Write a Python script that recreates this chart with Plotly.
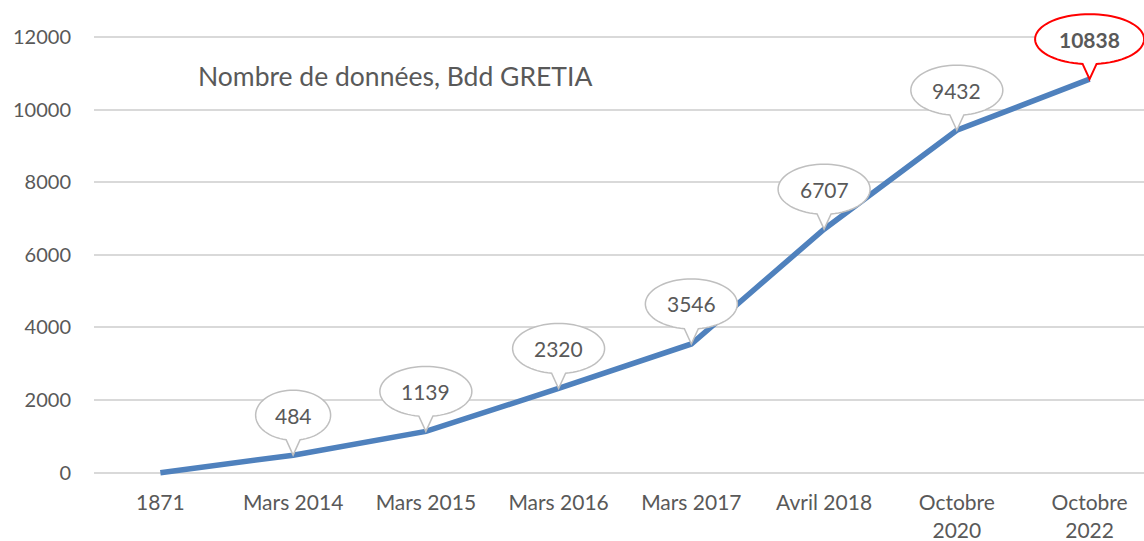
import math
import plotly.graph_objects as go

categories = ["1871", "Mars 2014", "Mars 2015", "Mars 2016", "Mars 2017",
              "Avril 2018", "Octobre<br>2020", "Octobre<br>2022"]
values = [0, 484, 1139, 2320, 3546, 6707, 9432, 10838]
callout_values = values[1:]
callout_cats = categories[1:]
y_ticks = [0, 2000, 4000, 6000, 8000, 10000, 12000]
y_tick_labels = ["0", "2000", "4000", "6000", "8000", "10000", "12000"]
title_text = "Nombre de données, Bdd GRETIA"

FONT = "Lato"
TXT = "#595959"

fig = go.Figure()
fig.add_trace(go.Scatter(
    x=categories, y=values, mode="lines",
    line=dict(color="#4F81BD", width=5.5),
    hoverinfo="skip", showlegend=False,
))


def callout_path(text, lift=40, half_h=25, base=7, n=72):
    w = 24 + 17 * len(text)
    a = w / 2.0
    th = math.acos(base / a)
    t0 = -th
    t1 = math.pi + th
    pts = []
    for i in range(n + 1):
        t = t0 + (t1 - t0) * i / n
        pts.append((a * math.cos(t), lift + half_h * math.sin(t)))
    d = "M " + " L ".join(f"{x:.2f},{y:.2f}" for x, y in pts) + " L 0,0 Z"
    return d


for i, (c, v) in enumerate(zip(callout_cats, callout_values)):
    last = i == len(callout_values) - 1
    txt = str(v)
    fig.add_shape(
        type="path", xref="x", yref="y",
        xsizemode="pixel", ysizemode="pixel",
        xanchor=c, yanchor=v,
        path=callout_path(txt),
        line=dict(color="#FF0000" if last else "#BFBFBF", width=2 if last else 1.5),
        fillcolor="white", layer="above",
    )
    fig.add_annotation(
        x=c, y=v, xref="x", yref="y", yshift=40, showarrow=False,
        text=f"<b>{txt}</b>" if last else txt,
        font=dict(family=FONT, size=21, color=TXT),
        xanchor="center", yanchor="middle",
    )

fig.add_annotation(
    x=0.097, y=0.842, xref="paper", yref="paper", showarrow=False,
    text=title_text, xanchor="left", yanchor="middle",
    font=dict(family=FONT, size=26.5, color=TXT),
)

fig.update_layout(
    width=1144, height=541,
    margin=dict(l=94, r=0, t=0, b=61, autoexpand=False),
    paper_bgcolor="white", plot_bgcolor="white",
    font=dict(family=FONT, size=20, color=TXT),
    xaxis=dict(
        type="category", range=[-0.5, 7.41], automargin=False,
        showgrid=False, zeroline=False, showline=False,
        ticks="outside", ticklen=4, tickcolor="rgba(0,0,0,0)",
        tickfont=dict(family=FONT, size=21, color=TXT),
    ),
    yaxis=dict(
        range=[-200, 13018], tickvals=y_ticks, ticktext=y_tick_labels,
        automargin=False,
        showgrid=True, gridcolor="#D9D9D9", gridwidth=1.5,
        zeroline=False, showline=False,
        ticklabelstandoff=22,
        tickfont=dict(family=FONT, size=20, color=TXT),
    ),
)

fig.write_html("out.html")
